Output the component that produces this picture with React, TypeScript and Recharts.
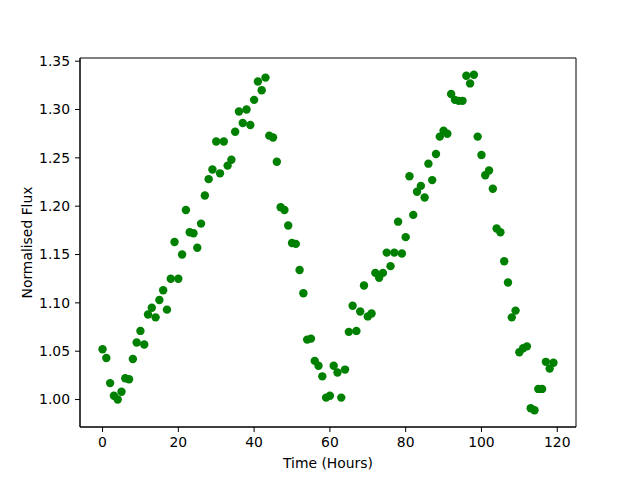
import { ScatterChart, Scatter, XAxis, YAxis, ReferenceArea, Label } from "recharts";

const hours = [
  0, 1, 2, 3, 4, 5, 6, 7, 8, 9, 10, 11, 12, 13, 14, 15, 16, 17, 18, 19,
  20, 21, 22, 23, 24, 25, 26, 27, 28, 29, 30, 31, 32, 33, 34, 35, 36, 37, 38, 39,
  40, 41, 42, 43, 44, 45, 46, 47, 48, 49, 50, 51, 52, 53, 54, 55, 56, 57, 58, 59,
  60, 61, 62, 63, 64, 65, 66, 67, 68, 69, 70, 71, 72, 73, 74, 75, 76, 77, 78, 79,
  80, 81, 82, 83, 84, 85, 86, 87, 88, 89, 90, 91, 92, 93, 94, 95, 96, 97, 98, 99,
  100, 101, 102, 103, 104, 105, 106, 107, 108, 109, 110, 111, 112, 113, 114, 115, 116, 117, 118, 119,
];

const flux = [
  1.052, 1.043, 1.017, 1.004, 1.0, 1.008, 1.022, 1.021, 1.042, 1.059,
  1.071, 1.057, 1.088, 1.095, 1.085, 1.103, 1.113, 1.093, 1.125, 1.163,
  1.125, 1.15, 1.196, 1.173, 1.172, 1.157, 1.182, 1.211, 1.228, 1.238,
  1.267, 1.234, 1.267, 1.242, 1.248, 1.277, 1.298, 1.286, 1.3, 1.284,
  1.31, 1.329, 1.32, 1.333, 1.273, 1.271, 1.246, 1.199, 1.196, 1.18,
  1.162, 1.161, 1.134, 1.11, 1.062, 1.063, 1.04, 1.035, 1.024, 1.002,
  1.004, 1.035, 1.028, 1.002, 1.031, 1.07, 1.097, 1.071, 1.091, 1.118,
  1.086, 1.089, 1.131, 1.126, 1.131, 1.152, 1.138, 1.152, 1.184, 1.151,
  1.168, 1.231, 1.191, 1.215, 1.221, 1.209, 1.244, 1.227, 1.254, 1.272,
  1.278, 1.275, 1.316, 1.31, 1.309, 1.309, 1.335, 1.327, 1.336, 1.272,
  1.253, 1.232, 1.237, 1.218, 1.177, 1.173, 1.143, 1.121, 1.085, 1.092,
  1.049, 1.053, 1.055, 0.991, 0.989, 1.011, 1.011, 1.039, 1.032, 1.038,
];

const xTicks = [0, 20, 40, 60, 80, 100, 120];
const yTicks = [1.0, 1.05, 1.1, 1.15, 1.2, 1.25, 1.3, 1.35];

const points = hours.map((h, i) => ({ hour: h, flux: flux[i] }));

const X_DOMAIN: [number, number] = [-5.95, 124.95];
const Y_DOMAIN: [number, number] = [0.9716, 1.3533];

const font = "DejaVu Sans, sans-serif";
const tickStyle = { fill: "#000", fontSize: 13.9, fontFamily: font };

const Dot = (props: any) => (
  <circle cx={props.cx} cy={props.cy} r={4.2} fill="#008000" />
);

export default function App() {
  return (
    <div style={{ position: "absolute", left: 0, top: 0, background: "#fff" }}>
      <ScatterChart
        width={640}
        height={480}
        margin={{ top: 58, right: 64, bottom: 0, left: 0 }}
      >
        <XAxis
          type="number"
          dataKey="hour"
          domain={X_DOMAIN}
          ticks={xTicks}
          allowDataOverflow
          height={53}
          tick={tickStyle}
          tickSize={5}
          tickMargin={5}
          axisLine={{ stroke: "#000" }}
          tickLine={{ stroke: "#000" }}
        >
          <Label
            value="Time (Hours)"
            position="center"
            dy={10}
            style={{ fill: "#000", fontSize: 13.9, fontFamily: font }}
          />
        </XAxis>
        <YAxis
          type="number"
          dataKey="flux"
          domain={Y_DOMAIN}
          ticks={yTicks}
          allowDataOverflow
          width={80}
          tick={tickStyle}
          tickSize={5}
          tickMargin={5}
          tickFormatter={(v: number) => v.toFixed(2)}
          axisLine={{ stroke: "#000" }}
          tickLine={{ stroke: "#000" }}
        >
          <Label
            value="Normalised Flux"
            position="center"
            angle={-90}
            dx={-13}
            style={{ fill: "#000", fontSize: 13.9, fontFamily: font, textAnchor: "middle" }}
          />
        </YAxis>
        <ReferenceArea
          x1={X_DOMAIN[0]}
          x2={X_DOMAIN[1]}
          y1={Y_DOMAIN[0]}
          y2={Y_DOMAIN[1]}
          fill="none"
          stroke="#000"
          strokeWidth={1}
          fillOpacity={0}
        />
        <Scatter data={points} shape={Dot} isAnimationActive={false} />
      </ScatterChart>
    </div>
  );
}
